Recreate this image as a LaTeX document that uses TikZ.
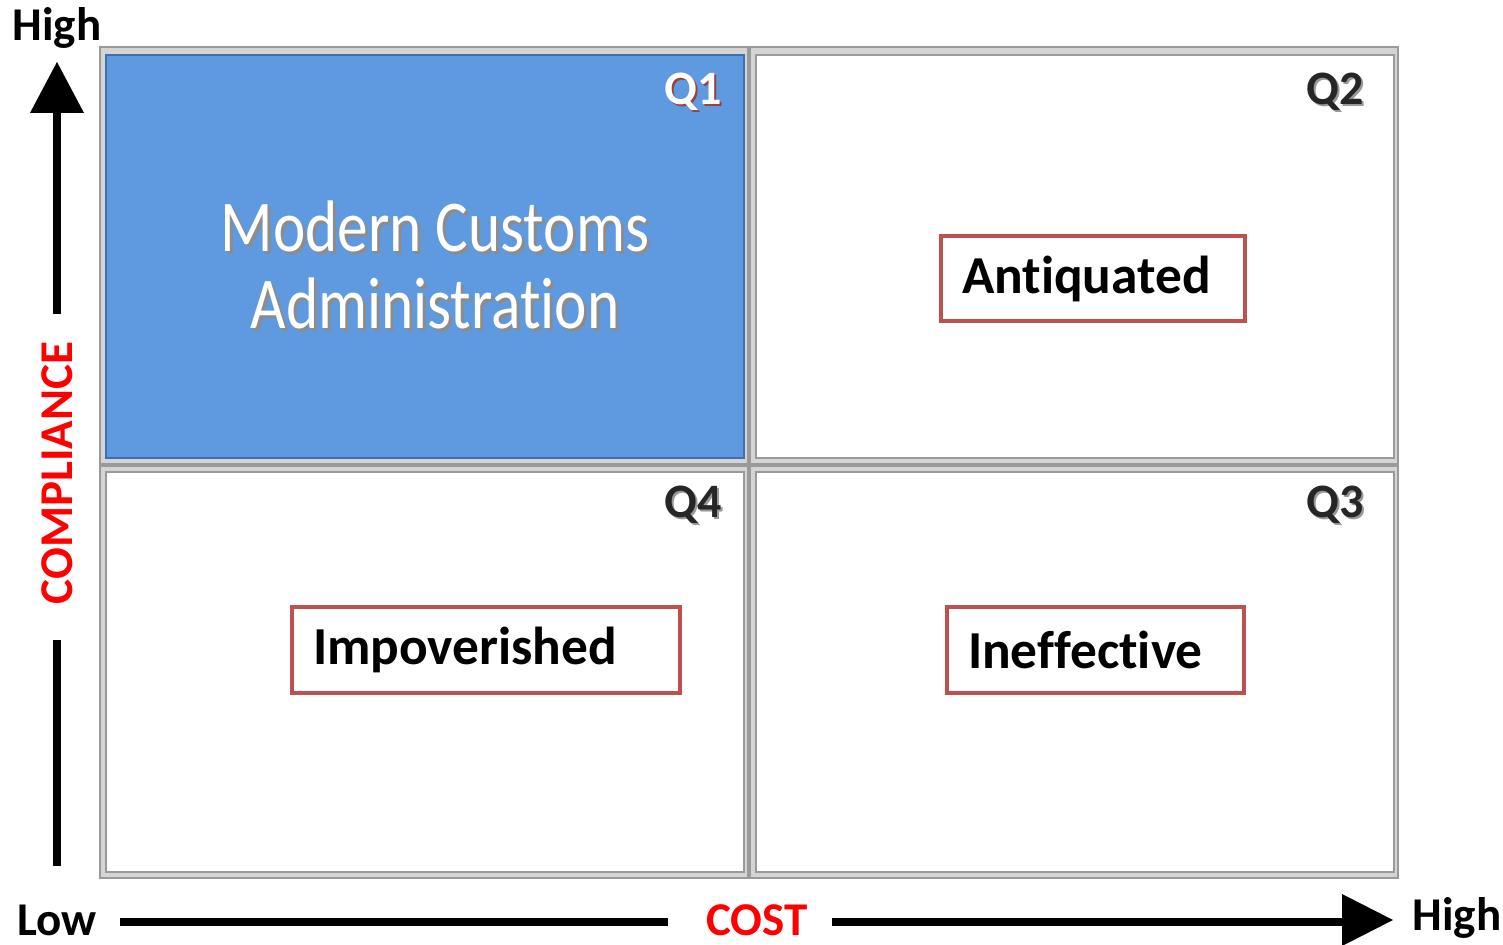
\documentclass[tikz,border=0pt]{standalone}
\usepackage{fontspec}
\setmainfont[Ligatures=NoCommon]{Carlito}
\newfontfamily\condfont[FakeStretch=0.84,Ligatures=NoCommon]{Carlito}
\definecolor{qblue}{HTML}{5F9AE0}
\definecolor{qblueedge}{HTML}{3F6FAE}
\definecolor{boxred}{HTML}{C0504D}
\definecolor{axred}{HTML}{FF0000}
\definecolor{framegray}{HTML}{D4D4D4}
\definecolor{edgegray}{HTML}{9A9A9A}
\tikzset{
  cellframe/.style={fill=framegray, draw=edgegray, line width=0.6pt},
  cellin/.style={fill=white, draw=edgegray, line width=0.8pt},
  axlabel/.style={font=\bfseries\fontsize{23.5}{28}\selectfont, inner sep=0pt},
  qlab/.style={font=\bfseries\fontsize{24}{28}\selectfont, inner sep=0pt},
  shadowtxt/.style={text=black!45},
  catbox/.style={draw=boxred, line width=2pt, fill=white, font=\bfseries\fontsize{26.7}{30}\selectfont,
    align=left, inner xsep=10.5pt, inner ysep=0pt, minimum height=42.5pt},
  axline/.style={line width=4pt, black},
}
\begin{document}
\begin{tikzpicture}[x=0.5pt,y=-0.5pt]
\useasboundingbox (0,0) rectangle (1503,945);
% cells
\draw[cellframe] (100,47) rectangle (748,464);
\draw[fill=qblue, draw=qblueedge, line width=1pt] (106,55) rectangle (744,458);
\draw[cellframe] (750,47) rectangle (1398,464);
\draw[cellin] (756,55) rectangle (1394,458);
\draw[cellframe] (100,466) rectangle (748,878);
\draw[cellin] (106,472) rectangle (744,872);
\draw[cellframe] (750,466) rectangle (1398,878);
\draw[cellin] (756,472) rectangle (1394,872);

% Q1 text
\node[shadowtxt, font=\condfont\fontsize{36.5}{38.5}\selectfont, align=center, inner sep=0pt] (mcs) at (438,268) {Modern Customs\\Administration};
\node[text=white, font=\condfont\fontsize{36.5}{38.5}\selectfont, align=center, inner sep=0pt] (mc) at (435,265) {Modern Customs\\Administration};

% quadrant labels
\node[qlab, text=boxred!80!black] (q1s) at (695,94) {Q1};
\node[qlab, text=white] (q1) at (693,92) {Q1};
\node[qlab, text=black!40] (q2s) at (1337,94) {Q2};
\node[qlab, text=black!85] (q2) at (1335,92) {Q2};
\node[qlab, text=black!40] (q4s) at (695,507) {Q4};
\node[qlab, text=black!85] (q4) at (693,505) {Q4};
\node[qlab, text=black!40] (q3s) at (1337,507) {Q3};
\node[qlab, text=black!85] (q3) at (1335,505) {Q3};

% category boxes
\node[catbox, text width=131pt] (anti) at (1093,279) {Antiquated};
\node[catbox, text width=173pt] (impo) at (486,650) {Impoverished};
\node[catbox, text width=127.5pt] (inef) at (1095.5,650) {Ineffective};

% vertical axis
\node[axlabel] (hightop) at (57,28) {High};
\node[axlabel, text=axred, rotate=90] (comp) at (57,473) {COMPLIANCE};
\node[axlabel] (low) at (57,920) {Low};
\coordinate (ytip) at (57,62);
\coordinate (yhead) at (57,112);
\coordinate (yshaft) at (57,314);
\coordinate (ylowtop) at (57,640);
\coordinate (ylowbot) at (57,866);
\draw[axline] (yhead) -- (yshaft);
\fill (ytip) -- (84,113) -- (30,113) -- cycle;
\draw[axline] (ylowtop) -- (ylowbot);

% horizontal axis
\node[axlabel, text=axred] (cost) at (757,920) {COST};
\node[axlabel] (highright) at (1457,918) {High};
\coordinate (xl1) at (120,922);
\coordinate (xl2) at (668,922);
\coordinate (xr1) at (832,922);
\coordinate (xr2) at (1345,922);
\coordinate (xtip) at (1393,920);
\draw[axline] (xl1) -- (xl2);
\draw[axline] (xr1) -- (xr2);
\fill (xtip) -- (1342,894) -- (1342,946) -- cycle;
\end{tikzpicture}
\end{document}
